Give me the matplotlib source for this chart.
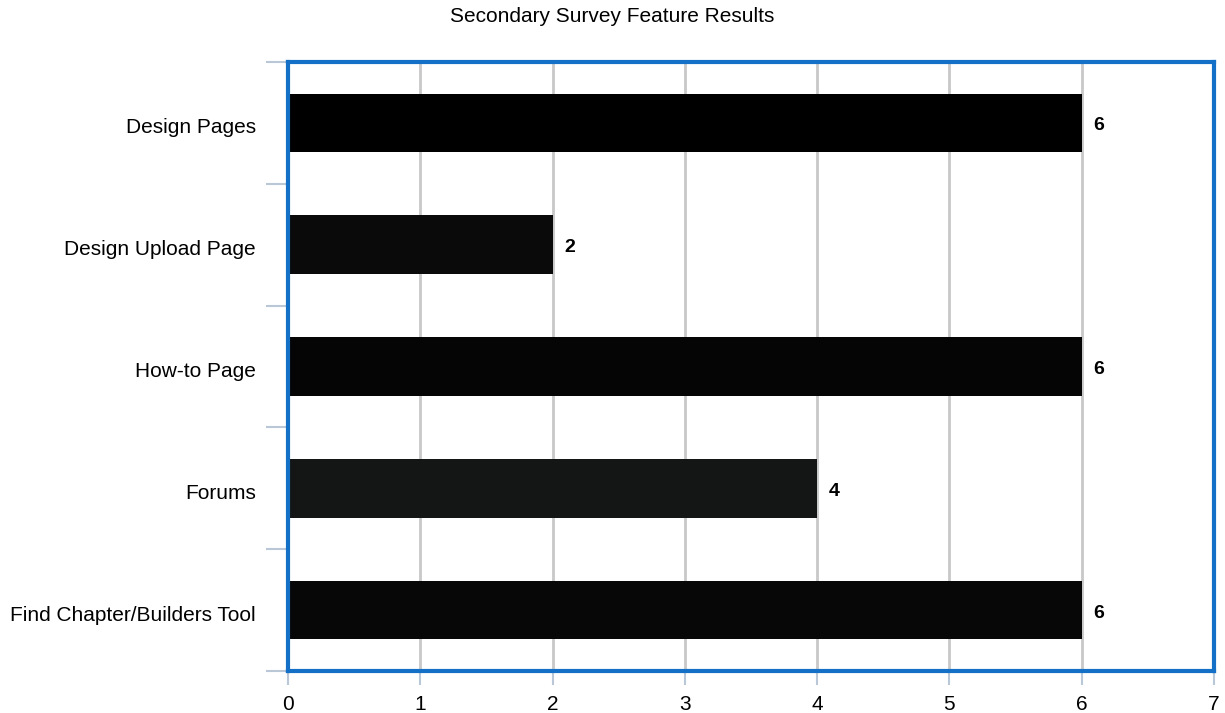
import matplotlib
matplotlib.use("Agg")
import matplotlib.pyplot as plt
import matplotlib.transforms as mtransforms
import numpy as np

features = ["Design Pages", "Design Upload Page", "How-to Page", "Forums",
            "Find Chapter/Builders Tool"]
counts = [6, 2, 6, 4, 6]
bar_colors = ["#000000", "#0a0a0a", "#050505", "#141515", "#070707"]
x_ticks = [0, 1, 2, 3, 4, 5, 6, 7]

plt.rcParams["font.family"] = ["Liberation Sans", "DejaVu Sans"]

fig = plt.figure(figsize=(12.25, 7.13), dpi=100)
ax = fig.add_axes([288 / 1225, 1 - 671 / 713, (1214 - 288) / 1225, (671 - 62) / 713])

# nudge text a few pixels downward
down = mtransforms.ScaledTranslation(0, -3 / 100, fig.dpi_scale_trans)

y = np.arange(len(features))
ax.barh(y, counts, height=0.48, color=bar_colors, zorder=3)
for yi, v in zip(y, counts):
    ax.text(v + 0.09, yi, f"{v}", va="center", ha="left", fontsize=14,
            fontweight="bold", zorder=4, transform=ax.transData + down)

ax.set_xlim(0, 7)
ax.set_ylim(len(features) - 0.5, -0.5)
ax.set_xticks(x_ticks)
ax.set_xticklabels([str(t) for t in x_ticks], fontsize=15)
ax.set_yticks(y)
ax.set_yticklabels(features, fontsize=15)
ax.set_yticks(np.arange(-0.5, len(features), 1), minor=True)

ax.tick_params(axis="y", which="major", length=0, pad=23)
ax.tick_params(axis="y", which="minor", length=16, width=1.5, color="#b9c7d6")
ax.tick_params(axis="x", which="major", length=10, width=1.5, color="#b9c7d6", pad=7)

for lbl in ax.get_yticklabels():
    lbl.set_transform(lbl.get_transform() + down)

ax.grid(axis="x", color="#c8c8c8", linewidth=2, zorder=0)
ax.set_axisbelow(True)

for s in ax.spines.values():
    s.set_color("#1470c6")
    s.set_linewidth(3)
    s.set_zorder(5)

fig.suptitle("Secondary Survey Feature Results", y=1 - 17 / 713, va="center",
             fontsize=15)

fig.savefig("out.png", dpi=100)
